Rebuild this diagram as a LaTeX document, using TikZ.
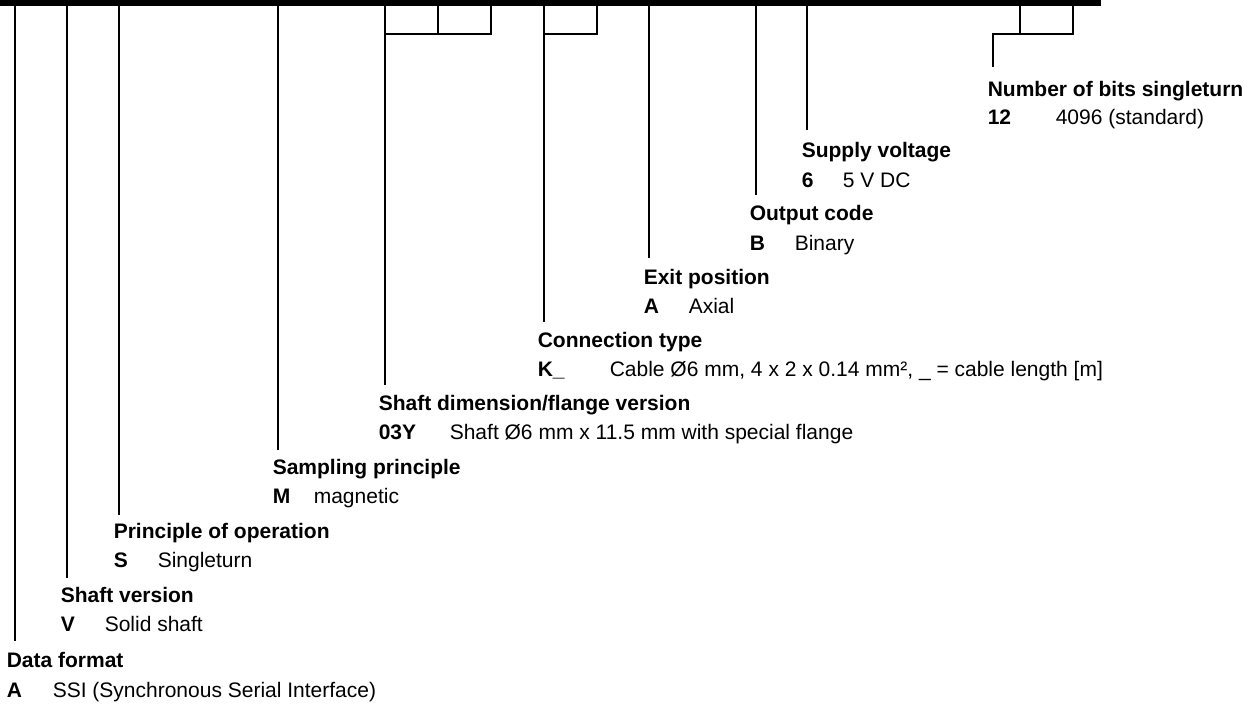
\documentclass[tikz,border=0pt]{standalone}
\usepackage{fontspec}
\setmainfont{Liberation Sans}

\begin{document}
\begin{tikzpicture}[x=1pt, y=1pt, line width=1.6pt,
		every node/.style={anchor=base west, inner sep=0pt, font=\fontsize{21}{25}\selectfont},
		head/.style={font=\fontsize{21}{25}\selectfont\bfseries},
		code/.style={font=\fontsize{21}{25}\selectfont\bfseries}]
		\useasboundingbox (0,0) rectangle (1251,-706);
		\fill (0,0) rectangle (1101,-6);
		% top ends of the code lines
		\coordinate (tdf) at (15,-6);
		\coordinate (tsv) at (67,-6);
		\coordinate (tpo) at (119,-6);
		\coordinate (tsp) at (278,-6);
		\coordinate (tsd) at (385,-6);
		\coordinate (tsd2) at (438,-6);
		\coordinate (tsd3) at (491,-6);
		\coordinate (tct) at (544,-6);
		\coordinate (tct2) at (597,-6);
		\coordinate (tep) at (649,-6);
		\coordinate (toc) at (756,-6);
		\coordinate (tvs) at (807,-6);
		\coordinate (tnb) at (1020,-6);
		\coordinate (tnb2) at (1073,-6);
		\coordinate (jsd) at (385,-34);
		\coordinate (jct) at (544,-34);
		\coordinate (jnb) at (993,-34);
		% bottom ends
		\coordinate (bdf) at (15,-641);
		\coordinate (bsv) at (67,-578);
		\coordinate (bpo) at (119,-515);
		\coordinate (bsp) at (278,-450);
		\coordinate (bsd) at (385,-385);
		\coordinate (bct) at (544,-322);
		\coordinate (bep) at (649,-258);
		\coordinate (boc) at (756,-195);
		\coordinate (bvs) at (807,-130);
		\coordinate (bnb) at (993,-67);

		\node[head] (hnb) at (987,-97) {Number of bits singleturn};
		\node[code] (cnb) at (987,-125) {12};
		\node (dnb) at (1055,-125) {4096 (standard)};
		\node[head] (hvs) at (801,-158) {Supply voltage};
		\node[code] (cvs) at (801,-187) {6};
		\node (dvs) at (842,-187) {5 V DC};
		\node[head] (hoc) at (749,-221) {Output code};
		\node[code] (coc) at (749,-250) {B};
		\node (doc) at (794,-250) {Binary};
		\node[head] (hep) at (643,-284) {Exit position};
		\node[code] (cep) at (643,-313) {A};
		\node (dep) at (688,-313) {Axial};
		\node[head] (hct) at (537,-347) {Connection type};
		\node[code] (cct) at (537,-376) {K\_};
		\node (dct) at (609,-376) {Cable Ø6 mm, 4 x 2 x 0.14 mm², \_ = cable length [m]};
		\node[head] (hsd) at (378,-410) {Shaft dimension/flange version};
		\node[code] (csd) at (378,-439) {03Y};
		\node (dsd) at (449,-439) {Shaft Ø6 mm x 11.5 mm with special flange};
		\node[head] (hsp) at (272,-474) {Sampling principle};
		\node[code] (csp) at (272,-503) {M};
		\node (dsp) at (313,-503) {magnetic};
		\node[head] (hpo) at (113,-538) {Principle of operation};
		\node[code] (cpo) at (113,-567) {S};
		\node (dpo) at (157,-567) {Singleturn};
		\node[head] (hsv) at (60,-602) {Shaft version};
		\node[code] (csv) at (60,-631) {V};
		\node (dsv) at (104,-631) {Solid shaft};
		\node[head] (hdf) at (6,-667) {Data format};
		\node[code] (cdf) at (6,-697) {A};
		\node (ddf) at (52,-697) {SSI (Synchronous Serial Interface)};

		\draw (tdf) -- (bdf);
		\draw (tsv) -- (bsv);
		\draw (tpo) -- (bpo);
		\draw (tsp) -- (bsp);
		\draw (tsd) -- (bsd);
		\draw (tsd2) -- (tsd2 |- jsd);
		\draw (tsd3) |- (jsd);
		\draw (tct) -- (bct);
		\draw (tct2) |- (jct);
		\draw (tep) -- (bep);
		\draw (toc) -- (boc);
		\draw (tvs) -- (bvs);
		\draw (tnb) -- (tnb |- jnb);
		\draw (tnb2) |- (jnb) -- (bnb);
	\end{tikzpicture}
\end{document}
